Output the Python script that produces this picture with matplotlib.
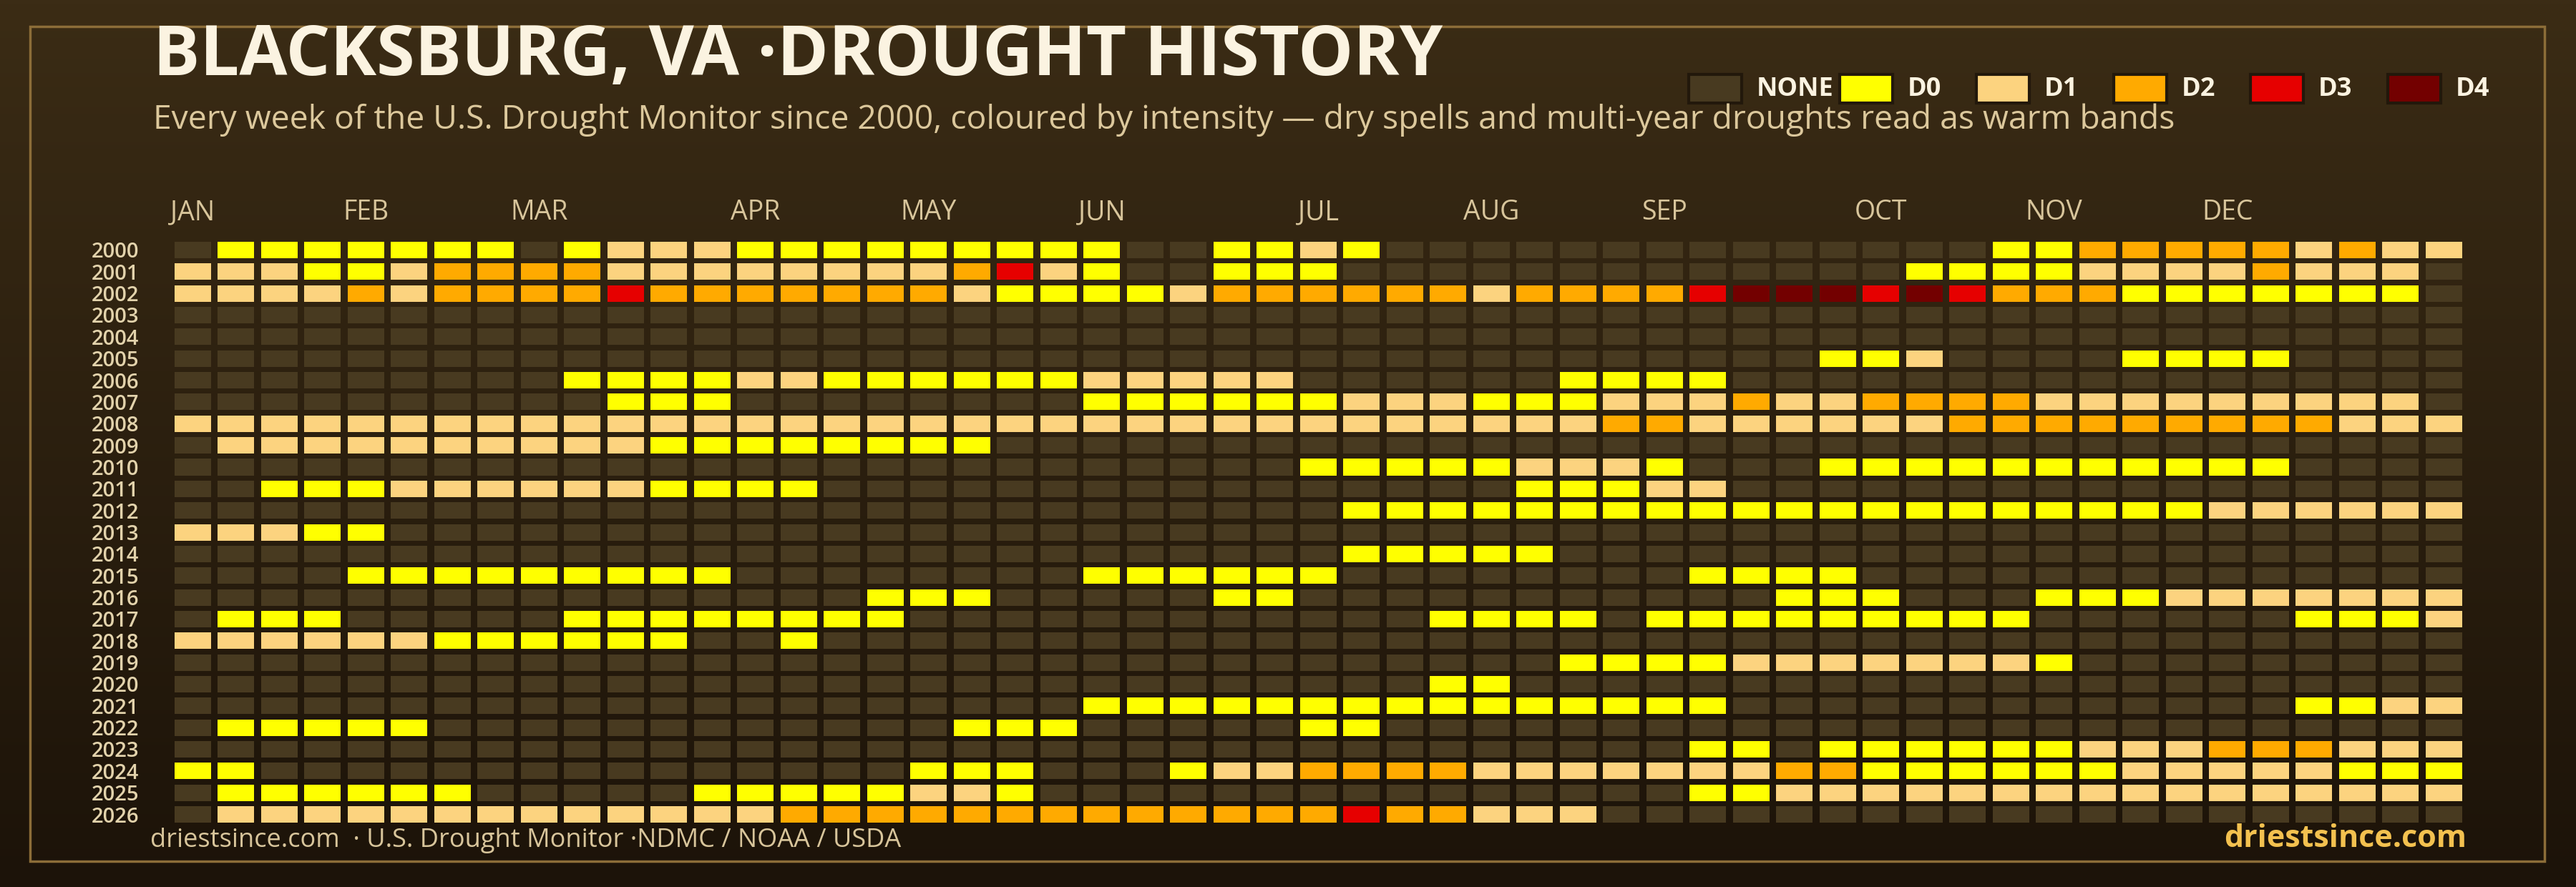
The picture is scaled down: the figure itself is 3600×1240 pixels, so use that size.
import matplotlib
matplotlib.use('Agg')
import matplotlib.pyplot as plt
import matplotlib.transforms as mtransforms
import numpy as np
from matplotlib.patches import Rectangle
from matplotlib.colors import LinearSegmentedColormap

plt.rcParams['font.family'] = ['Open Sans', 'DejaVu Sans']

years = list(range(2000, 2027))

# one character per week: '.' = no drought, '0'..'4' = D0..D4
weeks = [
    ".0000000.0111000" "000000..0010......" "........00222221211",
    "1110012222111111" "112310..000......." "......000011112111.",
    "1111212222322222" "221000012222221222" "23444343222" "0000000" ".",
    "." * 53,
    "." * 53,
    "." * 38 + "001" + "...." + "0000" + "....",
    ".........0000110" "0000011111......00" "00" + "." * 17,
    ".........." "000" "..." "....." "000000" "111" "000" "1" "11211" "2222" "111111111" ".",
    "1" * 33 + "2" + "2" + "1" * 6 + "2" * 9 + "111",
    "." + "1" * 10 + "0" * 8 + "." * 34,
    "." * 26 + "0" * 5 + "111" + "0" + "..." + "0" * 11 + "....",
    ".." "000" "111111" "0000" + "." * 16 + "000" "11" + "." * 17,
    "." * 27 + "0" * 20 + "1" * 6,
    "111" "00" + "." * 48,
    "." * 27 + "0" * 5 + "." * 21,
    "...." + "0" * 9 + "." * 8 + "0" * 6 + "." * 8 + "0000" + "." * 14,
    "." * 16 + "000" "....." "00" + "." * 11 + "000" "..." "000" + "1" * 7,
    "." "000" "....." + "0" * 8 + "." * 12 + "0000" "." + "0" * 9 + "......" "000" "1",
    "1" * 6 + "0" * 6 + ".." "0" + "." * 38,
    "." * 32 + "0000" + "1" * 7 + "0" + "." * 9,
    "." * 29 + "00" + "." * 22,
    "." * 21 + "0" * 15 + "." * 13 + "00" "11",
    "." + "0" * 5 + "." * 12 + "000" "....." "00" + "." * 25,
    "." * 35 + "00" "." + "0" * 6 + "111" "222" "111",
    "00" + "." * 15 + "000" "..." "0" "11" "2222" + "1" * 7 + "22" + "0" * 6 + "1" * 5 + "000",
    "." + "0" * 6 + "....." + "0" * 5 + "11" "0" + "." * 15 + "00" + "1" * 16,
    "." + "1" * 13 + "2" * 13 + "3" "22" "111" + "." * 20,
]

months = ['JAN', 'FEB', 'MAR', 'APR', 'MAY', 'JUN', 'JUL', 'AUG', 'SEP', 'OCT', 'NOV', 'DEC']
month_weeks = [0, 4, 8, 13, 17, 21, 26, 30, 34, 39, 43, 47]

levels = ['NONE', 'D0', 'D1', 'D2', 'D3', 'D4']
level_colors = ['#483a20', '#ffff00', '#fcd37f', '#ffaa00', '#e60000', '#730000']

W, H = 3600, 1240
fig = plt.figure(figsize=(W / 100, H / 100), dpi=100)

# background gradient
bg = fig.add_axes([0, 0, 1, 1], zorder=-10)
grad = np.linspace(0, 1, 256).reshape(-1, 1)
bg.imshow(grad, aspect='auto', extent=[0, 1, 0, 1],
          cmap=LinearSegmentedColormap.from_list('bg', ['#3b2c15', '#1c1309']))
bg.axis('off')

# frame
fig.add_artist(Rectangle((42 / W, 1 - 1204 / H), (3556 - 42) / W, (1204 - 37) / H,
                         transform=fig.transFigure, fill=False,
                         edgecolor='#8c6d38', lw=2.5, zorder=0.5))

# heatmap
ax = fig.add_axes([239 / W, 1 - 1153.8 / H, 3206.5 / W, 819.5 / H])
ax.set_xlim(-0.5, 52.5)
ax.set_ylim(26.5, -0.5)
ax.axis('off')
for j, row in enumerate(weeks):
    vals = [-1 if c == '.' else int(c) for c in row]
    cols = [level_colors[v + 1] for v in vals]
    ax.bar(np.arange(len(vals)), 0.76, width=0.835, bottom=j - 0.38,
           color=cols, linewidth=0)

trans_y = mtransforms.blended_transform_factory(fig.transFigure, ax.transData)
for j, y in enumerate(years):
    ax.text(194 / W, j + 0.36, str(y), transform=trans_y, ha='right', va='baseline',
            fontsize=21, color='#e3d3ac', fontweight='semibold')

trans_x = mtransforms.blended_transform_factory(ax.transData, fig.transFigure)
for m, wk in zip(months, month_weeks):
    ax.text(wk, 1 - 307 / H, m, transform=trans_x, ha='center', va='baseline',
            fontsize=27, color='#d8c59b')

# legend
leg_x = [2360, 2571, 2762, 2954, 3145, 3337]
for lab, col, x in zip(levels, level_colors, leg_x):
    fig.add_artist(Rectangle((x / W, 1 - 144 / H), 74 / W, 40 / H,
                             transform=fig.transFigure, facecolor=col,
                             edgecolor='#22180b', lw=3))
    fig.text((x + 95) / W, 1 - 134 / H, lab, fontsize=26, fontweight='bold',
             color='#fbf3e1', va='baseline')

# titles
fig.text(214 / W, 1 - 105 / H, 'BLACKSBURG, VA ·DROUGHT HISTORY', fontsize=70,
         fontweight='bold', color='#fbf3e1', va='baseline', zorder=3)
fig.text(214 / W, 1 - 180 / H,
         'Every week of the U.S. Drought Monitor since 2000, coloured by intensity \u2014 '
         'dry spells and multi-year droughts read as warm bands',
         fontsize=33.3, color='#dcc89c', va='baseline')

# footer
fig.text(210 / W, 1 - 1184 / H, 'driestsince.com  \u00b7 U.S. Drought Monitor \u00b7NDMC / NOAA / USDA',
         fontsize=26, color='#d8c59b', va='baseline')
fig.text(3447 / W, 1 - 1184 / H, 'driestsince.com', fontsize=31, fontweight='bold',
         color='#f3c14f', ha='right', va='baseline')

fig.savefig('out.png', dpi=100)
